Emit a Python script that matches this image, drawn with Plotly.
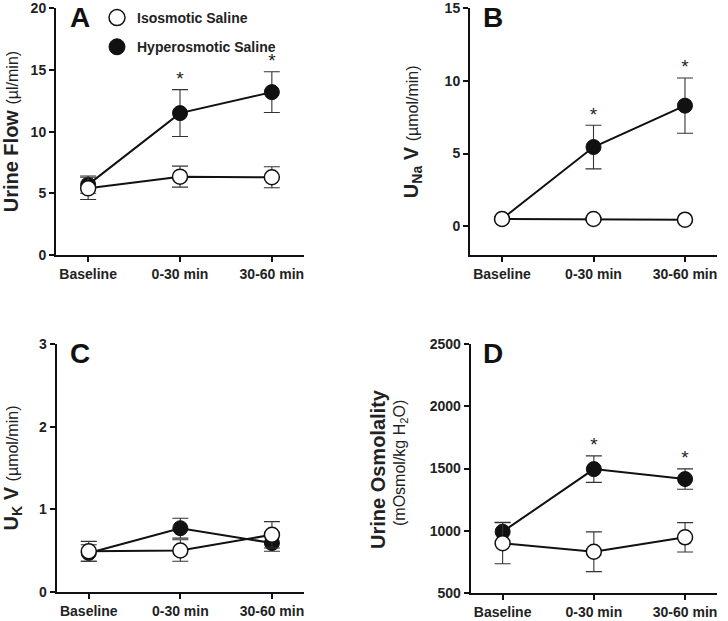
import plotly.graph_objects as go

categories = ["Baseline", "0-30 min", "30-60 min"]
sig = [False, True, True]

# Panel A: Urine flow (µl/min)
a_iso = [5.4, 6.35, 6.3]
a_iso_sem = [0.9, 0.85, 0.85]
a_hyp = [5.7, 11.5, 13.2]
a_hyp_sem = [0.7, 1.9, 1.65]

# Panel B: UNa V (µmol/min)
b_iso = [0.5, 0.5, 0.45]
b_iso_sem = [0.1, 0.1, 0.1]
b_hyp = [0.5, 5.45, 8.3]
b_hyp_sem = [0.1, 1.5, 1.9]

# Panel C: UK V (µmol/min)
c_iso = [0.49, 0.5, 0.69]
c_iso_sem = [0.12, 0.13, 0.16]
c_hyp = [0.47, 0.77, 0.59]
c_hyp_sem = [0.1, 0.12, 0.1]

# Panel D: Urine osmolality (mOsmol/kg H2O)
d_iso = [898, 830, 946]
d_iso_sem = [165, 160, 118]
d_hyp = [991, 1495, 1415]
d_hyp_sem = [75, 107, 82]

FONT = "Liberation Sans, Arial, sans-serif"
W, H = 728, 621

fig = go.Figure()

panels = [
    ("x", "y", a_iso, a_iso_sem, a_hyp, a_hyp_sem, True),
    ("x2", "y2", b_iso, b_iso_sem, b_hyp, b_hyp_sem, True),
    ("x3", "y3", c_iso, c_iso_sem, c_hyp, c_hyp_sem, False),
    ("x4", "y4", d_iso, d_iso_sem, d_hyp, d_hyp_sem, True),
]

err_style = dict(type="data", color="#333333", thickness=1.1, width=8, visible=True)

for xa, ya, iso, iso_s, hyp, hyp_s, show_sig in panels:
    fig.add_trace(go.Scatter(
        x=categories, y=hyp, xaxis=xa, yaxis=ya, mode="lines+markers",
        line=dict(color="#111111", width=2),
        marker=dict(size=15, color="#111111", line=dict(color="#111111", width=1)),
        error_y=dict(array=hyp_s, **err_style), showlegend=False, cliponaxis=False))
    fig.add_trace(go.Scatter(
        x=categories, y=iso, xaxis=xa, yaxis=ya, mode="lines+markers",
        line=dict(color="#111111", width=2),
        marker=dict(size=15, color="white", line=dict(color="#111111", width=1.5)),
        error_y=dict(array=iso_s, **err_style), showlegend=False, cliponaxis=False))
    if show_sig:
        sx = [c for c, s in zip(categories, sig) if s]
        sy = [m + e for m, e, s in zip(hyp, hyp_s, sig) if s]
        fig.add_trace(go.Scatter(
            x=sx, y=sy, xaxis=xa, yaxis=ya, mode="text", text=["*"] * len(sx),
            textposition="top center", textfont=dict(size=19, color="#222222", family=FONT),
            showlegend=False, cliponaxis=False, hoverinfo="skip"))

# legend entries
fig.add_trace(go.Scatter(x=[None], y=[None], mode="markers", name="Isosmotic Saline", legendgroup="iso",
                         marker=dict(size=16, color="white", line=dict(color="#111111", width=1.5))))
fig.add_trace(go.Scatter(x=[None], y=[None], mode="markers", name="Hyperosmotic Saline", legendgroup="hyp",
                         marker=dict(size=16, color="#111111", line=dict(color="#111111", width=1))))

def px_dom_x(a, b):
    return [a / W, b / W]

def px_dom_y(top, bottom):
    return [1 - bottom / H, 1 - top / H]

common_x = dict(type="category", range=[-0.35, 2.35], showline=True, linecolor="#111111", linewidth=2,
                ticks="outside", ticklen=5, tickwidth=1.5, tickcolor="#111111", showgrid=False,
                zeroline=False, automargin=False,
                tickfont=dict(family=FONT, size=14, color="#222222", weight="bold"))
common_y = dict(showline=True, linecolor="#111111", linewidth=2, ticks="outside", ticklen=5,
                tickwidth=1.5, tickcolor="#111111", showgrid=False, zeroline=False, automargin=False,
                ticklabeloverflow="allow",
                tickfont=dict(family=FONT, size=14, color="#222222", weight="bold"))

small = 'font-size:16px;font-weight:normal'

fig.update_layout(
    xaxis=dict(domain=px_dom_x(56, 304), anchor="y", **common_x),
    yaxis=dict(domain=px_dom_y(8.2, 255), anchor="x", range=[0, 20], tickvals=[0, 5, 10, 15, 20],
               title=dict(text='<b>Urine Flow</b> <span style="%s">(µl/min)</span>' % small,
                          font=dict(family=FONT, size=20, color="#222222"), standoff=9), **common_y),
    xaxis2=dict(domain=px_dom_x(470, 717), anchor="y2", **common_x),
    yaxis2=dict(domain=px_dom_y(8.3, 255.3), anchor="x2", range=[-2, 15], tickvals=[0, 5, 10, 15],
                title=dict(text='<b>U<sub>Na</sub> V</b> <span style="%s">(µmol/min)</span>' % small,
                           font=dict(family=FONT, size=20, color="#222222"), standoff=21), **common_y),
    xaxis3=dict(domain=px_dom_x(56.7, 304), anchor="y3", **common_x),
    yaxis3=dict(domain=px_dom_y(344.3, 591.7), anchor="x3", range=[0, 3], tickvals=[0, 1, 2, 3],
                title=dict(text='<b>U<sub>K</sub> V</b> <span style="%s">(µmol/min)</span>' % small,
                           font=dict(family=FONT, size=20, color="#222222"), standoff=20), **common_y),
    xaxis4=dict(domain=px_dom_x(470.7, 717), anchor="y4", **common_x),
    yaxis4=dict(domain=px_dom_y(344.3, 592.7), anchor="x4", range=[500, 2500],
                tickvals=[500, 1000, 1500, 2000, 2500], **common_y),
    width=W, height=H,
    margin=dict(l=0, r=0, t=0, b=0, autoexpand=False),
    paper_bgcolor="white", plot_bgcolor="white",
    font=dict(family=FONT, color="#222222"),
    showlegend=True,
    legend=dict(x=97 / W, y=1 - 2 / H, xanchor="left", yanchor="top", bgcolor="rgba(0,0,0,0)",
                font=dict(family=FONT, size=14, color="#222222", weight="bold"),
                itemsizing="trace", tracegroupgap=8, traceorder="grouped"),
)

# Panel D y-axis title (two lines)
fig.add_annotation(text="<b>Urine Osmolality</b>", textangle=-90, x=378 / W, y=1 - 469 / H,
                   xref="paper", yref="paper", showarrow=False, xanchor="center", yanchor="middle",
                   font=dict(family=FONT, size=20, color="#222222"))
fig.add_annotation(text="(mOsmol/kg H<sub>2</sub>O)", textangle=-90, x=400 / W, y=1 - 463 / H,
                   xref="paper", yref="paper", showarrow=False, xanchor="center", yanchor="middle",
                   font=dict(family=FONT, size=16, color="#222222"))

for letter, xp, yp in [("A", 80, 17), ("B", 493, 17), ("C", 80, 353), ("D", 493, 353)]:
    fig.add_annotation(text="<b>%s</b>" % letter, x=xp / W, y=1 - yp / H, xref="paper", yref="paper",
                       showarrow=False, font=dict(family=FONT, size=28, color="#111111"),
                       xanchor="center", yanchor="middle")

fig.write_html("out.html", config={"displayModeBar": False},
               post_script="document.body.style.margin='0px';document.body.style.overflow='hidden';")
